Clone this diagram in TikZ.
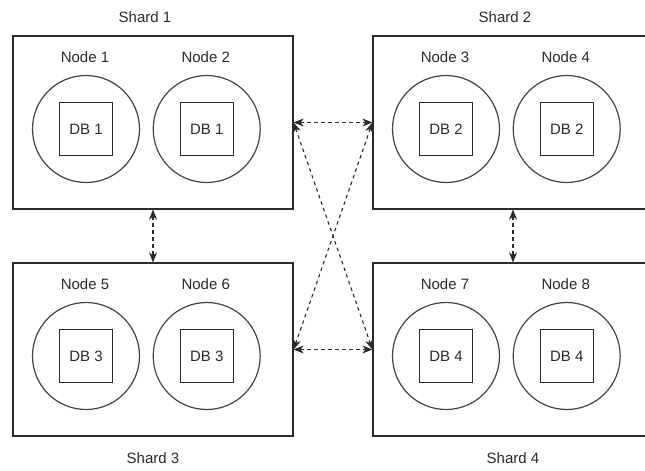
\documentclass[tikz,border=0pt]{standalone}
\usepackage{fontspec}
\setmainfont{Liberation Sans}
\usetikzlibrary{arrows.meta}
\definecolor{ink}{HTML}{2B2B2B}
\definecolor{rim}{HTML}{444444}
\tikzset{
  x=1pt, y=-1pt,
  every node/.style={font=\fontsize{15}{18}\selectfont, text=ink},
  shardbox/.style={draw=ink, line width=1.2pt, rectangle, minimum width=280pt, minimum height=173pt, inner sep=0pt},
  server/.style={draw=rim, line width=1.2pt, circle, minimum size=107pt, inner sep=0pt},
  dbbox/.style={draw=ink, line width=1.2pt, rectangle, minimum size=53pt, inner sep=0pt},
  caption/.style={inner sep=0pt},
  tip/.tip={Stealth[length=10pt, width=8pt, inset=3pt]},
  conn/.style={draw=ink, line width=1.1pt, dash pattern=on 3.5pt off 3.5pt, tip-tip}
}
\begin{document}
\begin{tikzpicture}
\clip (0,0) rectangle (645,471);
\fill[white] (0,0) rectangle (645,471);

% shards
\node[shardbox] (s1) at (153,122.5) {};
\node[shardbox] (s2) at (513,122.5) {};
\node[shardbox] (s3) at (153,349.5) {};
\node[shardbox] (s4) at (513,349.5) {};

\node[caption] (s1lbl) at (145,17) {Shard 1};
\node[caption] (s2lbl) at (505,17) {Shard 2};
\node[caption] (s3lbl) at (153,458) {Shard 3};
\node[caption] (s4lbl) at (513,458) {Shard 4};

% servers with their databases
\foreach \name/\cx/\cy/\lbl/\db in {
  c1/86/129/Node 1/DB 1, c2/206.7/129/Node 2/DB 1,
  c3/446/129/Node 3/DB 2, c4/566.7/129/Node 4/DB 2,
  c5/86/356/Node 5/DB 3, c6/206.7/356/Node 6/DB 3,
  c7/446/356/Node 7/DB 4, c8/566.7/356/Node 8/DB 4}{
  \node[server] (\name) at (\cx,\cy) {};
  \node[dbbox] (\name db) at (\cx,\cy) {\db};
  \node[caption] (\name lbl) at (\cx-1,\cy-72) {\lbl};
}

% replication links
\draw[conn] (s1.east) -- (s2.west);
\draw[conn] (s3.east) -- (s4.west);
\draw[conn] (s1.east) -- (s4.west);
\draw[conn] (s2.west) -- (s3.east);
\draw[conn] (s1.south) -- (s3.north);
\draw[conn] (s2.south) -- (s4.north);
\end{tikzpicture}
\end{document}
